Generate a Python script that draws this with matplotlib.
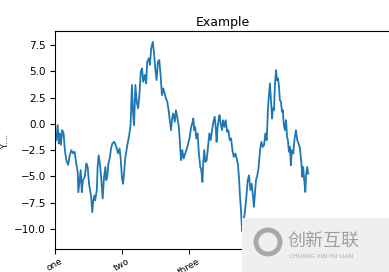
import matplotlib
matplotlib.use("Agg")
import matplotlib.pyplot as plt
from matplotlib.patches import Rectangle, Ellipse

# 读图得到的随机游走曲线 (步数, 数值)
steps = [0, 5, 10, 14, 18, 22, 27, 32, 37, 42, 49, 55, 61, 67, 73, 79, 85, 87, 92, 96,
         100, 104, 111, 117, 122, 127, 131, 135, 139, 143, 147, 150, 156, 159, 163, 168,
         173, 178, 183, 188, 191, 195, 199, 204, 209, 214, 221, 229, 235, 241, 245, 250,
         254, 257, 262, 270, 277, 282, 287, 291, 295, 300, 305, 310, 315, 320, 325, 329,
         335, 340, 344, 350, 354, 359, 365, 369, 374, 379, 384, 389, 394, 399, 404, 409,
         414, 419, 424, 429, 433, 437, 441, 447, 451, 456, 462, 466, 470, 475, 480, 486,
         492, 497, 503, 507, 512, 516, 520, 523, 527, 532, 537, 542, 546, 550, 553, 557,
         561, 566, 571, 576, 581, 586, 591, 596, 600, 603, 607, 611, 614, 618, 623, 627,
         632, 637, 642, 647, 652, 657, 662, 667, 673, 678, 683, 687, 690, 694, 698, 701,
         708, 714, 719, 724, 729, 734, 739, 742, 746, 750, 755, 760, 765, 770, 775, 780,
         785, 790, 795, 798, 802, 806, 810, 813, 817, 821, 825, 828, 832, 836, 839, 843,
         847, 850, 854, 858, 862, 866, 869, 873, 877, 880, 884, 889, 894, 899, 904, 909,
         914, 919, 923, 926, 930, 934, 937, 941, 945]
values = [-1.4, -1.55, -0.12, -1.87, -0.9, -2.0, -0.6, -0.9, -2.5, -3.45, -3.9, -3.0, -2.5,
          -2.8, -2.65, -3.75, -4.6, -6.5, -5.35, -4.4, -6.5, -5.35, -5.05, -3.77, -4.1,
          -5.7, -6.3, -6.95, -8.4, -7.27, -6.8, -7.27, -6.3, -4.1, -3.0, -3.9, -5.35, -7.1,
          -5.05, -4.1, -5.35, -5.05, -3.77, -3.3, -2.35, -1.87, -1.7, -2.2, -2.8, -2.35,
          -3.3, -5.2, -5.7, -4.9, -3.3, -2.0, -1.07, -0.12, 3.7, 1.15, -0.12, 3.7, 2.1,
          1.47, 2.73, 4.95, 5.27, 4.0, 4.64, 3.85, 5.9, 6.23, 5.6, 7.18, 7.8, 6.86, 5.27,
          4.16, 5.9, 6.07, 4.64, 2.73, 3.37, 2.9, 2.42, 2.1, 1.3, 0.19, -0.6, 0.51, 0.99,
          0.19, 1.3, 0.67, -0.29, -1.7, -3.46, -2.5, -3.3, -2.82, -2.35, -1.87, -1.24,
          -0.44, 0.04, 0.51, -0.6, -0.29, -1.39, -0.91, -2.82, -4.1, -4.41, -5.52, -3.77,
          -2.5, -3.62, -3.46, -2.19, -0.91, -1.55, -0.6, 0.19, 0.67, -0.44, -1.71, -0.29,
          0.51, 0.83, 0.04, -0.6, 0.35, -0.29, 0.35, -0.76, -0.6, -1.55, -1.39, -2.5,
          -3.14, -2.82, -3.3, -3.93, -5.36, -6.8, -8.2, -10.2, -9.5, -8.53, -6.95, -5.36,
          -4.9, -6.3, -5.7, -6.95, -7.9, -6.63, -5.36, -4.89, -4.1, -2.5, -1.71, -2.19,
          -2.03, -0.91, -1.55, 1.62, 2.57, 3.85, 2.26, 0.51, 1.47, 1.3, 3.85, 5.11, 4.16,
          4.32, 3.52, 2.26, 2.1, 1.14, 1.3, -0.12, -0.6, 0.35, -1.24, -1.55, -2.66, -2.19,
          -3.93, -2.5, -2.82, -1.39, -0.6, -1.55, -1.87, -2.35, -3.62, -5.05, -4.1, -5.36,
          -6.48, -4.89, -4.1, -4.73]

tick_pos = [0, 250, 500, 750, 1000]
tick_labels = ['one', 'two', 'three', 'four', 'five']

fig = plt.figure(figsize=(3.89, 2.72), dpi=100)
ax = fig.add_axes([55 / 389, 22.7 / 272, 335 / 389, 218.3 / 272])
ax.plot(steps, values, color='#1f77b4', linewidth=1.3)

ax.set_xlim(0, 1250)
ax.set_ylim(-11.93, 8.83)
ax.set_yticks([-10, -7.5, -5, -2.5, 0, 2.5, 5, 7.5])
ax.set_xticks(tick_pos)
ax.set_xticklabels(tick_labels, rotation=30, fontsize=6.5)
ax.tick_params(axis='y', labelsize=7.5, length=3.5, pad=3)
ax.tick_params(axis='x', length=3.5, pad=2)
ax.set_title('Example', fontsize=9, pad=3.5)
ax.set_ylabel('Y.....', fontsize=5.5, labelpad=3)

# 右下角水印
fig.patches.append(Rectangle((242 / 389, 0), 147 / 389, 54 / 272, transform=fig.transFigure,
                             facecolor='#efefef', edgecolor='none', zorder=10))
fig.patches.append(Ellipse((268 / 389, 30 / 272), 24 / 389, 24 / 272, transform=fig.transFigure,
                           facecolor='none', edgecolor='#a8a8a8', linewidth=3.5, zorder=11))
fig.text(288 / 389, 31 / 272, '创新互联', fontsize=13, color='#a0a0a0',
         family=['Noto Sans CJK SC', 'DejaVu Sans'], va='center', ha='left', zorder=12)
fig.text(289 / 389, 15 / 272, 'CHUANG XIN HU LIAN', fontsize=4.2, color='#a8a8a8',
         va='center', ha='left', zorder=12)

fig.savefig('out.png', dpi=100)
